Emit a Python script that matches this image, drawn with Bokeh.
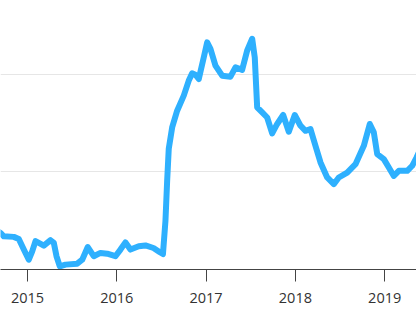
from bokeh.plotting import figure
from bokeh.models import Range1d, FixedTicker
from bokeh.embed import file_html
from bokeh.resources import INLINE

# Series: time in decimal years, value
years = [
    2014.664, 2014.698, 2014.735, 2014.847, 2014.903, 2014.959,
    2015.015, 2015.053, 2015.090, 2015.127, 2015.183, 2015.258, 2015.295,
    2015.325, 2015.362, 2015.426, 2015.557, 2015.613, 2015.675, 2015.742,
    2015.817, 2015.893, 2015.985,
    2016.041, 2016.097, 2016.153, 2016.246, 2016.321, 2016.411, 2016.478,
    2016.517, 2016.545, 2016.564, 2016.582, 2016.620, 2016.676, 2016.750,
    2016.806, 2016.844, 2016.881, 2016.918, 2016.974,
    2017.012, 2017.049, 2017.105, 2017.180, 2017.273, 2017.329, 2017.404,
    2017.460, 2017.516, 2017.545, 2017.572, 2017.628, 2017.684, 2017.740,
    2017.796, 2017.863, 2017.926, 2017.993,
    2018.057, 2018.113, 2018.169, 2018.225, 2018.281, 2018.356, 2018.430,
    2018.486, 2018.580, 2018.673, 2018.766, 2018.833, 2018.878, 2018.916,
    2018.990,
    2019.046, 2019.102, 2019.158, 2019.252, 2019.308, 2019.356, 2019.401,
]
values = [
    19.7, 18.7, 17.0, 16.7, 15.6, 10.2,
    5.0, 9.3, 14.5, 13.6, 12.2, 15.0, 13.6,
    6.8, 1.6, 2.5, 3.0, 5.0, 11.5, 6.8,
    8.5, 8.1, 6.8,
    10.2, 13.9, 10.2, 11.9, 12.3, 11.0, 9.0,
    7.9, 24.9, 45.4, 61.8, 72.7, 81.3, 89.0,
    96.7, 100.4, 99.7, 97.5, 108.6,
    116.3, 112.9, 104.4, 99.2, 98.7, 103.5, 102.2,
    112.1, 118.1, 108.6, 83.0, 80.4, 77.8, 69.7,
    74.5, 79.1, 70.5, 79.1,
    73.6, 71.0, 71.9, 63.3, 54.8, 47.1, 43.7,
    47.1, 49.6, 53.9, 63.3, 74.5, 70.2, 59.1,
    56.5,
    52.2, 47.9, 50.5, 50.5, 53.1, 57.3, 61.8,
]
year_ticks = [2015, 2016, 2017, 2018, 2019]
year_labels = ["2015", "2016", "2017", "2018", "2019"]
grid_values = [50, 100]

p = figure(width=416, height=325, output_backend="svg", toolbar_location=None,
           y_axis_location=None,
           x_range=Range1d(2014.698, 2019.356), y_range=Range1d(0, 137.7),
           min_border_left=0, min_border_right=0, min_border_top=0, min_border_bottom=56)
p.outline_line_color = None
p.background_fill_color = "white"
p.border_fill_color = "white"

p.line(years, values, line_color="#2eb0fe", line_width=6,
       line_join="round", line_cap="round")

p.xaxis.ticker = FixedTicker(ticks=year_ticks)
p.xaxis.major_label_overrides = {t: s for t, s in zip(year_ticks, year_labels)}
p.xaxis.axis_line_color = "#444444"
p.xaxis.axis_line_width = 1
p.xaxis.major_tick_line_color = "#444444"
p.xaxis.major_tick_in = 0
p.xaxis.major_tick_out = 12
p.xaxis.minor_tick_line_color = None
p.xaxis.major_label_text_font = "Open Sans"
p.xaxis.major_label_text_font_size = "14.5px"
p.xaxis.major_label_text_color = "#333333"
p.xaxis.major_label_standoff = 11

p.xgrid.grid_line_color = None
p.ygrid.ticker = FixedTicker(ticks=grid_values)
p.ygrid.grid_line_color = "#e6e6e6"
p.ygrid.grid_line_width = 1

open("out.html", "w").write(file_html(p, INLINE))
